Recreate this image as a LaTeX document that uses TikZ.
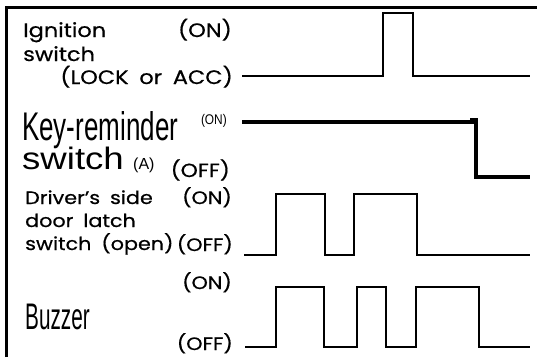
\documentclass[tikz,border=0pt]{standalone}
\usepackage{fontspec}
\usepackage{graphicx}
\setmainfont{Poppins}[FakeStretch=1.15, FakeBold=0.6, WordSpace=1.8]
\newfontfamily\condfont{Liberation Sans}
\usetikzlibrary{positioning}

\tikzset{
  lbl/.style={inner sep=0pt, font=\fontsize{18}{18}\selectfont},
  toplbl/.style={inner sep=0pt, font=\fontsize{19.5}{19.5}\selectfont},
  biglbl/.style={inner sep=0pt, font=\condfont\fontsize{40}{40}\selectfont},
  wave/.style={line width=2.6pt, line join=miter, line cap=butt}
}

\begin{document}
\begin{tikzpicture}[x=1pt, y=-1pt]
\useasboundingbox (0,0) rectangle (537,357);
% Frame
\draw[line width=3pt] (6.5,357) -- (6.5,7) -- (537,7);

% Ignition switch
\node[toplbl, anchor=base west] (ign1) at (23,37) {Ignition};
\node[toplbl, anchor=base west] (ign2) at (23,61) {switch};
\node[toplbl, anchor=base east] (ignon) at (232,37) {(ON)};
\node[toplbl, anchor=base east] (ignoff) at (233,84) {(LOCK or ACC)};
\coordinate (ignA) at (242,76);
\draw[wave] (ignA) -- (383,76) -- (383,13) -- (413,13) -- (413,76) -- (530,76);

% Key-reminder switch
\node[biglbl, anchor=base west] (key1) at (22,140) {\scalebox{0.65}[1]{Key-reminder}};
\node[inner sep=0pt, font=\condfont\fontsize{31}{31}\selectfont, anchor=base west] (key2) at (22,169) {\scalebox{1.18}[1]{switch}};
\node[inner sep=0pt, font=\condfont\fontsize{16}{16}\selectfont, right=9pt of key2.base east, anchor=base west] (keya) {(A)};
\node[inner sep=0pt, font=\condfont\fontsize{14}{14}\selectfont, anchor=base east] (keyon) at (227,124) {\scalebox{0.85}[1]{(ON)}};
\node[lbl, font=\fontsize{19}{19}\selectfont, anchor=base east] (keyoff) at (230,177) {(OFF)};
\coordinate (keyA) at (242,122);
\draw[wave, line width=3.4pt] (keyA) -- (476,122) -- (476,177) -- (530,177);
\fill (470,118) rectangle (478,124);

% Driver's side door latch switch
\node[lbl, anchor=base west] (door1) at (25,204) {Driver's side};
\node[lbl, anchor=base west] (door2) at (25,227) {door latch};
\node[lbl, anchor=base west] (door3) at (25,250) {switch (open)};
\node[lbl, anchor=base east] (dooron) at (232,204) {(ON)};
\node[lbl, anchor=base east] (dooroff) at (233,251) {(OFF)};
\coordinate (doorA) at (244,255);
\draw[wave] (doorA) -- (276,255) -- (276,194) -- (325,194) -- (325,255)
  -- (354,255) -- (354,194) -- (417,194) -- (417,255) -- (530,255);

% Buzzer
\node[biglbl, font=\condfont\fontsize{37}{37}\selectfont, anchor=base west] (buz) at (25,329) {\scalebox{0.56}[1]{Buzzer}};
\node[lbl, anchor=base east] (buzon) at (232,289) {(ON)};
\node[lbl, anchor=base east] (buzoff) at (233,350) {(OFF)};
\coordinate (buzA) at (245,347);
\draw[wave] (buzA) -- (276,347) -- (276,287) -- (324,287) -- (324,347)
  -- (357,347) -- (357,287) -- (386,287) -- (386,347)
  -- (416,347) -- (416,287) -- (479,287) -- (479,347) -- (530,347);
\end{tikzpicture}
\end{document}
